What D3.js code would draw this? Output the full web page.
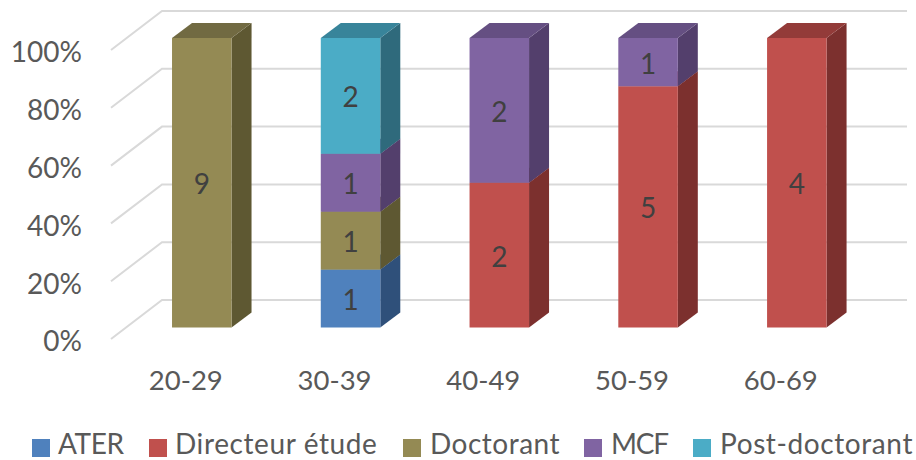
<!DOCTYPE html>
<html lang="fr">
<head>
<meta charset="utf-8">
<script src="https://cdn.jsdelivr.net/npm/d3@7/dist/d3.min.js"></script>
<style>
  html, body { margin: 0; padding: 0; background: #fff; overflow: hidden; }
  svg { display: block; }
  text { font-family: Lato, "Open Sans", sans-serif; }
</style>
</head>
<body>
<svg id="chart" width="916" height="460"></svg>
<script>
// Age brackets and headcount per status
const ageGroups = ["20-29", "30-39", "40-49", "50-59", "60-69"];
const statuses = ["ATER", "Directeur étude", "Doctorant", "MCF", "Post-doctorant"];
const ater = [0, 1, 0, 0, 0];
const directeur = [0, 0, 2, 5, 4];
const doctorant = [9, 1, 0, 0, 0];
const mcf = [0, 1, 2, 1, 0];
const postDoc = [0, 2, 0, 0, 0];
const percentTicks = [0, 0.2, 0.4, 0.6, 0.8, 1];

// Face shades per status: front, side, top
const frontColors = ["#4f81bd", "#c0504d", "#948a54", "#8064a2", "#4bacc6"];
const sideColors = ["#2f507a", "#7c302e", "#5e5832", "#533f6c", "#2f6a7c"];
const topColors = ["#3c669a", "#933b39", "#716a42", "#654f82", "#38849a"];
const legendSwatchX = [32, 149, 403, 584, 693];
const legendTextX = [26, 26, 27, 27, 27];
const legendSpacing = [-0.4, 0.6, 0.5, -1.2, 0.6];

const svg = d3.select("#chart");
const gridColor = "#d9d9d9";
const textColor = "#595959";
const labelColor = "#404040";

// Projection of the 3D box: bars sit part-way into the floor
const barDepth = { dx: 20, dy: -15 };
const wallDepth = { dx: 51, dy: -39 };

const x = d3.scaleBand().domain(ageGroups).range([127.4, 871.2]).paddingInner(0.6).paddingOuter(0.3);
const y = d3.scaleLinear().domain([0, 1]).range([327.5, 38]);
const wallY = d3.scaleLinear().domain([0, 1]).range([300, 11]);

const rows = ageGroups.map((age, i) => ({
  age,
  [statuses[0]]: ater[i],
  [statuses[1]]: directeur[i],
  [statuses[2]]: doctorant[i],
  [statuses[3]]: mcf[i],
  [statuses[4]]: postDoc[i]
}));
const stacked = d3.stack().keys(statuses).offset(d3.stackOffsetExpand)(rows);

// Back wall and left wall gridlines
const grid = svg.append("g").attr("fill", "none").attr("stroke", gridColor).attr("stroke-width", 2);
grid.selectAll("polyline").data(percentTicks).join("polyline")
  .attr("points", d => {
    const wy = wallY(d);
    return [[162 - wallDepth.dx, wy - wallDepth.dy], [162, wy], [907, wy]].map(p => p.join(",")).join(" ");
  });

// Stacked boxes, lowest segment first
const barWidth = x.bandwidth();
stacked.forEach((layer, s) => {
  const g = svg.append("g").attr("class", "layer");
  layer.forEach(seg => {
    if (seg[1] - seg[0] <= 0) return;
    const left = x(seg.data.age);
    const right = left + barWidth;
    const top = y(seg[1]);
    const bottom = y(seg[0]);
    g.append("polygon")
      .attr("fill", sideColors[s])
      .attr("points", [[right, bottom], [right + barDepth.dx, bottom + barDepth.dy], [right + barDepth.dx, top + barDepth.dy], [right, top]].join(" "));
    g.append("polygon")
      .attr("fill", topColors[s])
      .attr("points", [[left, top], [left + barDepth.dx, top + barDepth.dy], [right + barDepth.dx, top + barDepth.dy], [right, top]].join(" "));
    g.append("rect")
      .attr("x", left).attr("y", top)
      .attr("width", barWidth).attr("height", bottom - top)
      .attr("fill", frontColors[s]);
  });
});

// Headcount printed on each front face
stacked.forEach(layer => {
  layer.forEach(seg => {
    const count = seg.data[layer.key];
    if (!count) return;
    svg.append("text")
      .attr("x", x(seg.data.age) + barWidth / 2)
      .attr("y", (y(seg[0]) + y(seg[1])) / 2 + 11.5)
      .attr("text-anchor", "middle")
      .attr("font-size", 28)
      .attr("fill", labelColor)
      .text(count);
  });
});

// Percentage axis, text only
const yAxis = svg.append("g")
  .attr("transform", "translate(82,14.5)")
  .call(d3.axisLeft(y).tickValues(percentTicks).tickFormat(d3.format(".0%")).tickSize(0).tickPadding(0));
yAxis.select(".domain").remove();
yAxis.selectAll("text").attr("font-size", 28).attr("fill", textColor).style("font-family", "Lato, 'Open Sans', sans-serif");

// Age axis, text only
const xAxis = svg.append("g")
  .attr("transform", "translate(-16,370)")
  .call(d3.axisBottom(x).tickSize(0).tickPadding(0));
xAxis.select(".domain").remove();
xAxis.selectAll("text").attr("dy", "0.71em").attr("font-size", 27.5).attr("fill", textColor).style("font-family", "Lato, 'Open Sans', sans-serif");

// Legend row along the bottom edge
const legend = svg.append("g").selectAll("g").data(statuses).join("g")
  .attr("transform", (d, i) => `translate(${legendSwatchX[i]},439)`);
legend.append("rect").attr("width", 18).attr("height", 18).attr("fill", (d, i) => frontColors[i]);
legend.append("text")
  .attr("x", (d, i) => legendTextX[i]).attr("y", 15)
  .attr("font-size", 28)
  .attr("letter-spacing", (d, i) => legendSpacing[i])
  .attr("fill", textColor)
  .text(d => d);
</script>
</body>
</html>
